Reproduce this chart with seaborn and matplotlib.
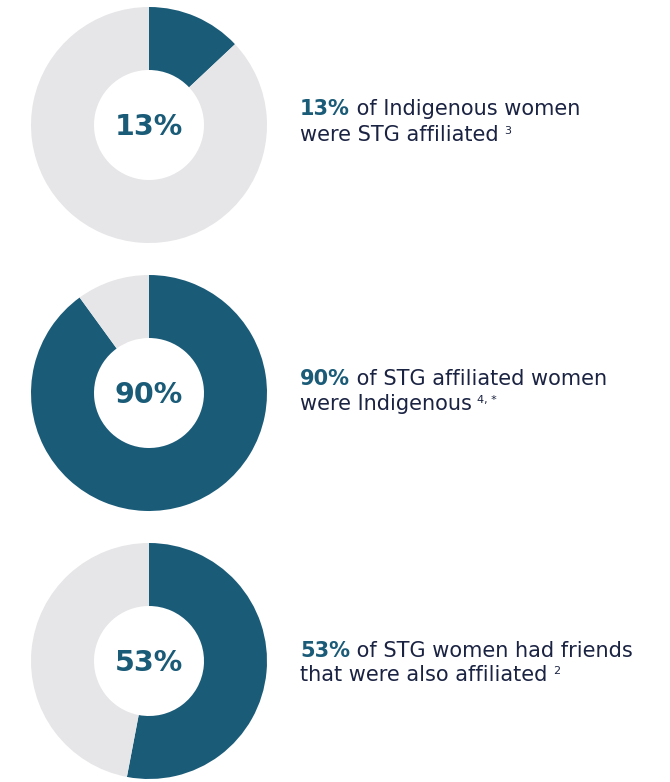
import matplotlib
matplotlib.use("Agg")
import matplotlib.pyplot as plt
import seaborn as sns

# ---- data ----
percentages = [13, 90, 53]
center_labels = ["13%", "90%", "53%"]
bold_parts = ["13%", "90%", "53%"]
line1_rest = [" of Indigenous women", " of STG affiliated women", " of STG women had friends"]
line2_text = ["were STG affiliated", "were Indigenous", "that were also affiliated"]
footnotes = ["3", "4, *", "2"]

# ---- style ----
sns.set_theme(style="white")
plt.rcParams['font.family'] = ['DejaVu Sans']
TEAL = "#1a5b78"
GREY = "#e6e6e8"
NAVY = "#1b2342"
palette = sns.color_palette([TEAL, GREY])

W, H = 670, 782
fig = plt.figure(figsize=(W / 100, H / 100), dpi=100)
fig.patch.set_facecolor("white")

R = 118
CX = 149
centers_y = [125, 393, 661]
baselines = [(115, 141), (385, 410), (657, 681)]
FS = 15

# overlay axes in pixel coordinates for the descriptive text
tax = fig.add_axes([0, 0, 1, 1])
tax.set_xlim(0, W)
tax.set_ylim(H, 0)
tax.axis("off")

for i, pct in enumerate(percentages):
    cy = centers_y[i]
    ax = fig.add_axes([(CX - R) / W, 1 - (cy + R) / H, 2 * R / W, 2 * R / H])
    ax.pie([pct, 100 - pct], colors=palette, startangle=90, counterclock=False,
           radius=1.0, wedgeprops=dict(width=1 - 55 / 118, linewidth=0))
    ax.set_xlim(-1, 1)
    ax.set_ylim(-1, 1)
    ax.set_aspect("equal")
    ax.axis("off")
    ax.text(0, -0.02, center_labels[i], ha="center", va="center", color=TEAL,
            fontsize=20.5, fontweight="bold")

    b1, b2 = baselines[i]
    t1 = tax.text(300, b1, bold_parts[i], color=TEAL, fontsize=FS,
                  fontweight="bold", ha="left", va="baseline")
    tax.annotate(line1_rest[i], xy=(1, 0), xycoords=t1, ha="left", va="bottom",
                 color=NAVY, fontsize=FS)
    t2 = tax.text(300, b2, line2_text[i], color=NAVY, fontsize=FS,
                  ha="left", va="baseline")
    tax.annotate(footnotes[i], xy=(1, 1), xycoords=t2, xytext=(4, -1),
                 textcoords="offset points", ha="left", va="top",
                 color=NAVY, fontsize=8)

fig.savefig("out.png", dpi=100, facecolor="white")
